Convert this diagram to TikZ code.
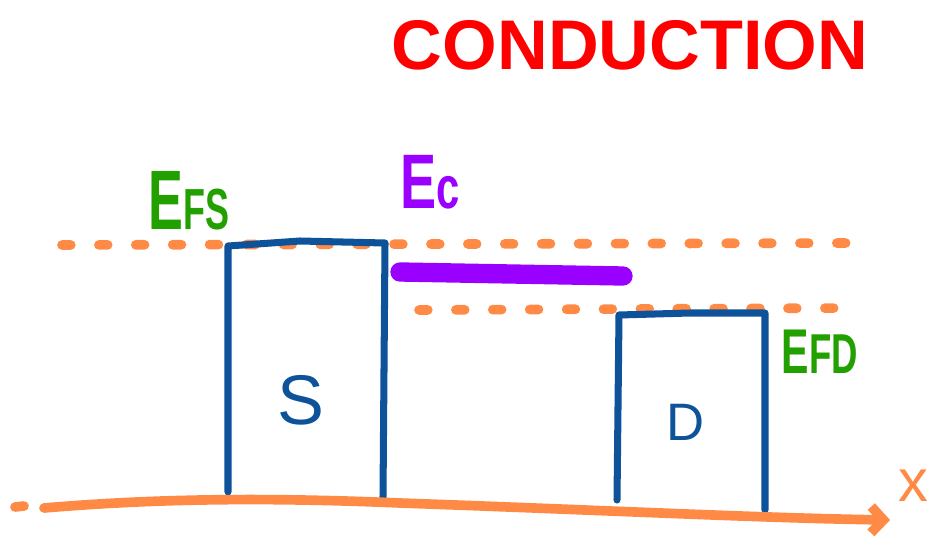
\documentclass[tikz,border=0pt]{standalone}
\usepackage{fontspec}
\setmainfont{Liberation Sans}
\usetikzlibrary{arrows.meta}
\definecolor{penorange}{HTML}{FF8A45}
\definecolor{penblue}{HTML}{0E5299}
\definecolor{penpurple}{HTML}{9900FF}
\definecolor{pengreen}{HTML}{22A000}
\definecolor{penred}{HTML}{FF0000}

\begin{document}
\begin{tikzpicture}[
   x=.02cm,y=-.02cm,
   every node/.style={inner sep=0pt},
   level/.style={draw=penorange,line width=5.5pt,line cap=round,dash pattern=on 5pt off 16pt},
   wall/.style={draw=penblue,line width=4pt,line cap=round,line join=round},
   band/.style={draw=penpurple,line width=11pt,line cap=round},
   axis/.style={draw=penorange,line width=5.5pt,line cap=round},
   title/.style={text=penred,font=\fontsize{40}{40}\selectfont\bfseries},
   region/.style={text=penblue},
   fermi/.style={text=pengreen,font=\bfseries}
 ]
  \useasboundingbox (0,0) rectangle (943,541);

  % Heading.
  \node[title] (title) at (630,45) {CONDUCTION};

  % Fermi levels of source and drain.
  \coordinate (fs0) at (62,245);
  \coordinate (fs1) at (856,243);
  \coordinate (fd0) at (419,310);
  \coordinate (fd1) at (854,308);
  \draw[level] (fs0) -- (fs1);
  \draw[level] (fd0) -- (fd1);

  % Channel band edge, lowered below the source level.
  \coordinate (ec0) at (400,272);
  \coordinate (ec1) at (623,276);
  \draw[band] (ec0) -- (ec1);

  % Source and drain blocks.
  \draw[wall] (228,492) -- (228,246) -- (300,241) -- (385,243) -- (383,497);
  \draw[wall] (617,500) -- (619,315) -- (690,313) -- (765,313) -- (765,510);
  \node[region,font=\fontsize{40}{40}\selectfont] (lbS) at (301,400) {S};
  \node[region,font=\fontsize{30}{30}\selectfont] (lbD) at (686,422) {D};

  % Level labels.
  \node[fermi] (lbEFS) at (189,201)
    {\scalebox{.62}[1]{{\fontsize{48}{48}\selectfont E}{\fontsize{33}{33}\selectfont FS}}};
  \node[fermi] (lbEFD) at (820,352)
    {\scalebox{.65}[1]{{\fontsize{36}{36}\selectfont E}{\fontsize{32}{32}\selectfont FD}}};
  \node[text=penpurple,font=\bfseries] (lbEc) at (430,182)
    {\scalebox{.7}[1]{{\fontsize{44}{44}\selectfont E}{\fontsize{34}{34}\selectfont c}}};

  % Position axis.
  \coordinate (ax0) at (44,508);
  \coordinate (ax1) at (890,520);
  \coordinate (axa) at (15,507);
  \coordinate (axb) at (24,506);
  \draw[axis] (axa) -- (axb);
  \draw[axis,-{Straight Barb[length=7pt,width=15pt]}]
    (ax0) .. controls (150,499) and (260,497) .. (400,503)
          .. controls (600,510) and (760,518) .. (ax1);
  \node[text=penorange,font=\fontsize{34}{34}\selectfont] (lbX) at (913,486) {x};
\end{tikzpicture}
\end{document}
